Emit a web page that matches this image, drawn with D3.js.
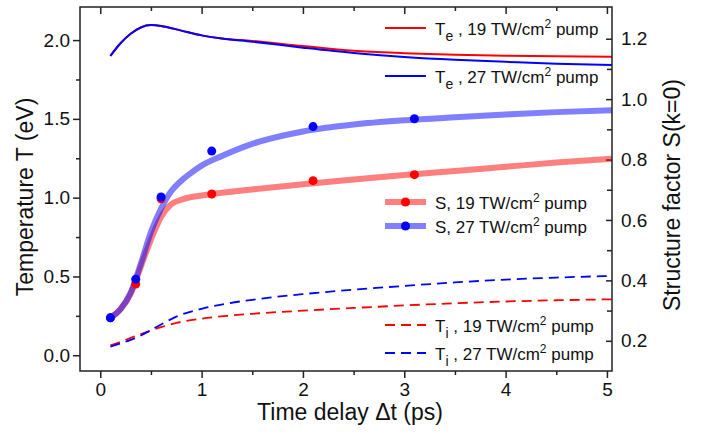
<!DOCTYPE html>
<html>
<head>
<meta charset="utf-8">
<script src="https://d3js.org/d3.v7.min.js"></script>
<style>
  body { margin: 0; background: #fff; }
  svg { font-family: "Liberation Sans", Arial, sans-serif; }
  .tick text { font-size: 19px; fill: #111; }
  .tick line { stroke: #222; stroke-width: 1.5; }
</style>
</head>
<body>
<div id="chart"></div>
<script>
// electron temperature (left axis, eV)
const teX = [0.1, 0.2, 0.3, 0.4, 0.5, 0.6, 0.8, 1.0, 1.2, 1.5, 2.0, 2.5, 3.0, 3.5, 4.0, 4.5, 5.05];
const te19 = [1.90, 1.98, 2.04, 2.08, 2.095, 2.09, 2.06, 2.03, 2.01, 1.995, 1.962, 1.932, 1.917, 1.907, 1.901, 1.897, 1.895];
const te27 = [1.90, 1.98, 2.04, 2.08, 2.095, 2.09, 2.06, 2.03, 2.01, 1.99, 1.952, 1.918, 1.893, 1.875, 1.862, 1.85, 1.842];

// ion temperature (left axis, eV)
const tiX = [0.1, 0.2, 0.3, 0.4, 0.5, 0.6, 0.75, 1.0, 1.25, 1.5, 2.0, 2.5, 3.0, 3.5, 4.0, 4.5, 5.05];
const ti19 = [0.062, 0.085, 0.11, 0.135, 0.157, 0.178, 0.205, 0.232, 0.25, 0.263, 0.283, 0.3, 0.316, 0.33, 0.341, 0.349, 0.355];
const ti27 = [0.055, 0.075, 0.097, 0.125, 0.16, 0.195, 0.245, 0.295, 0.328, 0.352, 0.388, 0.416, 0.44, 0.462, 0.48, 0.493, 0.503];

// structure factor fits (right axis)
const sX = [0.1, 0.2, 0.3, 0.4, 0.5, 0.6, 0.7, 0.8, 0.9, 1.0, 1.2, 1.5, 2.0, 2.5, 3.0, 3.5, 4.0, 4.5, 5.05];
const s19 = [0.276, 0.305, 0.355, 0.445, 0.535, 0.61, 0.652, 0.667, 0.676, 0.681, 0.69, 0.701, 0.718, 0.734, 0.749, 0.762, 0.776, 0.79, 0.803];
const s27 = [0.276, 0.305, 0.36, 0.455, 0.56, 0.638, 0.695, 0.73, 0.757, 0.78, 0.812, 0.852, 0.893, 0.916, 0.93, 0.94, 0.949, 0.957, 0.963];

// measured points
const delays = [0.1, 0.35, 0.6, 1.1, 2.1, 3.1];
const s19Pts = [0.276, 0.388, 0.67, 0.686, 0.73, 0.75];
const s27Pts = [0.276, 0.404, 0.676, 0.828, 0.909, 0.935];

const xTicks = [0, 1, 2, 3, 4, 5];
const xMinor = [0.5, 1.5, 2.5, 3.5, 4.5];
const yLTicks = [0, 0.5, 1, 1.5, 2];
const yLMinor = [0.25, 0.75, 1.25, 1.75];
const yRTicks = [0.2, 0.4, 0.6, 0.8, 1.0, 1.2];
const yRMinor = [0.3, 0.5, 0.7, 0.9, 1.1];

const W = 701, H = 437;
const m = { left: 80, right: 612, top: 7, bottom: 371 };
const red = "#ff0000", blue = "#0000ff";

const svg = d3.select("#chart").append("svg")
  .attr("width", W).attr("height", H);

const x = d3.scaleLinear().domain([-0.2, 5.05]).range([m.left, m.right]);
const yL = d3.scaleLinear().domain([-0.1, 2.21]).range([m.bottom, m.top]);
const yR = d3.scaleLinear().domain([0.1, 1.305]).range([m.bottom, m.top]);

svg.append("clipPath").attr("id", "clip")
  .append("rect")
  .attr("x", m.left).attr("y", m.top)
  .attr("width", m.right - m.left).attr("height", m.bottom - m.top);

// axes
const fmt = d3.format(".1f");
const addAxis = (axis, tx, ty) => {
  const g = svg.append("g").attr("transform", `translate(${tx},${ty})`).call(axis);
  g.select(".domain").remove();
  return g;
};
addAxis(d3.axisBottom(x).tickValues(xTicks).tickSize(7).tickPadding(5).tickFormat(d3.format("d")), 0, m.bottom);
addAxis(d3.axisBottom(x).tickValues(xMinor).tickSize(4).tickFormat(""), 0, m.bottom);
addAxis(d3.axisTop(x).tickValues(xTicks).tickSize(-7).tickFormat(""), 0, m.top);
addAxis(d3.axisTop(x).tickValues(xMinor).tickSize(-4).tickFormat(""), 0, m.top);
addAxis(d3.axisLeft(yL).tickValues(yLTicks).tickSize(7).tickPadding(3).tickFormat(fmt), m.left, 0);
addAxis(d3.axisLeft(yL).tickValues(yLMinor).tickSize(4).tickFormat(""), m.left, 0);
addAxis(d3.axisRight(yR).tickValues(yRTicks).tickSize(-6).tickPadding(9).tickFormat(fmt), m.right, 0);
addAxis(d3.axisRight(yR).tickValues(yRMinor).tickSize(-5).tickFormat(""), m.right, 0);

const plot = svg.append("g").attr("clip-path", "url(#clip)");

const lineL = d3.line().x(d => x(d[0])).y(d => yL(d[1])).curve(d3.curveMonotoneX);
const lineR = d3.line().x(d => x(d[0])).y(d => yR(d[1])).curve(d3.curveMonotoneX);
const pairs = (xs, ys) => xs.map((v, i) => [v, ys[i]]);

// S fits: thick, half transparent
plot.append("path").attr("d", lineR(pairs(sX, s19)))
  .attr("fill", "none").attr("stroke", red).attr("stroke-opacity", 0.5).attr("stroke-width", 6);
plot.append("path").attr("d", lineR(pairs(sX, s27)))
  .attr("fill", "none").attr("stroke", blue).attr("stroke-opacity", 0.5).attr("stroke-width", 6);

// Ti dashed
plot.append("path").attr("d", lineL(pairs(tiX, ti19)))
  .attr("fill", "none").attr("stroke", red).attr("stroke-width", 1.8).attr("stroke-dasharray", "10,6");
plot.append("path").attr("d", lineL(pairs(tiX, ti27)))
  .attr("fill", "none").attr("stroke", blue).attr("stroke-width", 1.8).attr("stroke-dasharray", "10,6");

// Te solid
plot.append("path").attr("d", lineL(pairs(teX, te19)))
  .attr("fill", "none").attr("stroke", red).attr("stroke-width", 2);
plot.append("path").attr("d", lineL(pairs(teX, te27)))
  .attr("fill", "none").attr("stroke", blue).attr("stroke-width", 2);

// points
plot.selectAll(".p19").data(pairs(delays, s19Pts)).enter().append("circle")
  .attr("cx", d => x(d[0])).attr("cy", d => yR(d[1])).attr("r", 4.5).attr("fill", red);
plot.selectAll(".p27").data(pairs(delays, s27Pts)).enter().append("circle")
  .attr("cx", d => x(d[0])).attr("cy", d => yR(d[1])).attr("r", 4.5).attr("fill", blue);

// frame
svg.append("rect")
  .attr("x", m.left).attr("y", m.top)
  .attr("width", m.right - m.left).attr("height", m.bottom - m.top)
  .attr("fill", "none").attr("stroke", "#222").attr("stroke-width", 1.5);

// axis titles
svg.append("text").attr("x", 350).attr("y", 420).attr("text-anchor", "middle")
  .attr("font-size", 23).attr("fill", "#111").text("Time delay \u0394t (ps)");
svg.append("text").attr("transform", "translate(33,197) rotate(-90)").attr("text-anchor", "middle")
  .attr("font-size", 23).attr("fill", "#111").text("Temperature T (eV)");
svg.append("text").attr("transform", "translate(680,195) rotate(-90)").attr("text-anchor", "middle")
  .attr("font-size", 23).attr("fill", "#111").text("Structure factor S(k=0)");

// legends
const legend = [
  { y: 28, kind: "solid", color: red, label: "T", sub: "e", rest: " , 19 TW/cm" },
  { y: 76, kind: "solid", color: blue, label: "T", sub: "e", rest: " , 27 TW/cm" },
  { y: 202, kind: "fit", color: red, label: "S, 19 TW/cm" },
  { y: 226, kind: "fit", color: blue, label: "S, 27 TW/cm" },
  { y: 325, kind: "dash", color: red, label: "T", sub: "i", rest: " , 19 TW/cm" },
  { y: 353, kind: "dash", color: blue, label: "T", sub: "i", rest: " , 27 TW/cm" }
];
legend.forEach(e => {
  const g = svg.append("g");
  const ln = g.append("line").attr("x1", 385).attr("x2", 426).attr("y1", e.y).attr("y2", e.y)
    .attr("stroke", e.color);
  if (e.kind === "solid") ln.attr("stroke-width", 2);
  if (e.kind === "dash") ln.attr("stroke-width", 1.8).attr("stroke-dasharray", "10,6");
  if (e.kind === "fit") {
    ln.attr("stroke-width", 6).attr("stroke-opacity", 0.5);
    g.append("circle").attr("cx", 405.5).attr("cy", e.y).attr("r", 4.5).attr("fill", e.color);
  }
  const t = g.append("text").attr("x", 435).attr("y", e.y + 6.5)
    .attr("font-size", 17).attr("fill", "#111");
  t.append("tspan").text(e.label);
  if (e.sub) {
    t.append("tspan").attr("font-size", 14).attr("dy", 6).text(e.sub);
    t.append("tspan").attr("dy", -6).text(e.rest);
  }
  t.append("tspan").attr("font-size", 12).attr("dy", -7).text("2");
  t.append("tspan").attr("dy", 7).text(" pump");
});
</script>
</body>
</html>
